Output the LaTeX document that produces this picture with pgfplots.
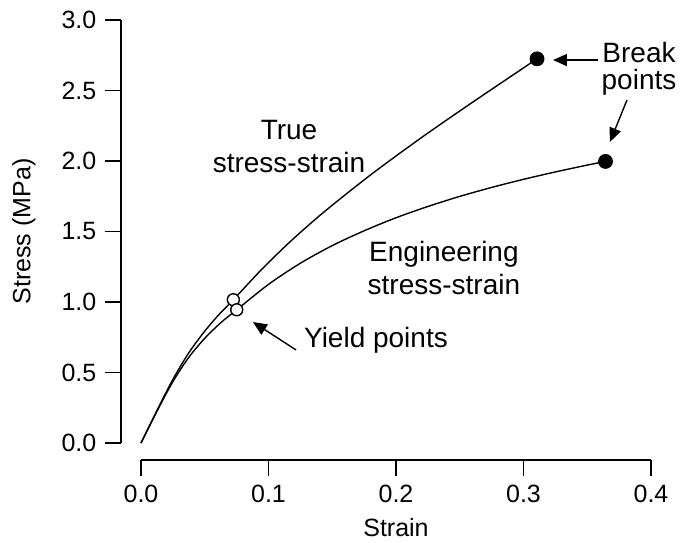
\documentclass[border=0pt]{standalone}
\usepackage{fontspec}
\setmainfont{Liberation Sans}
\usepackage{pgfplots}
\pgfplotsset{compat=1.18}
\usetikzlibrary{arrows.meta}

\pgfplotstableread{
x y
0 0
0.01242 0.2278
0.02469 0.4459
0.03681 0.6303
0.04879 0.7796
0.06062 0.9058
0.07241 1.0160
0.09531 1.2375
0.11778 1.4344
0.13976 1.6100
0.16127 1.7684
0.18232 1.9170
0.20294 2.0549
0.22314 2.1863
0.24295 2.3109
0.26236 2.4310
0.28141 2.5473
0.30010 2.6609
0.31063 2.7245
}\truess

\pgfplotstableread{
x y
0 0
0.0125 0.225
0.025 0.435
0.0375 0.6075
0.05 0.7425
0.0625 0.8525
0.0751 0.945
0.100 1.125
0.125 1.275
0.150 1.400
0.175 1.505
0.200 1.5975
0.225 1.6775
0.250 1.749
0.275 1.8125
0.300 1.870
0.325 1.9225
0.350 1.971
0.3643 1.997
}\engss

\begin{document}
\fontsize{12.5}{15}\selectfont
\begin{tikzpicture}
\begin{axis}[
  scale only axis, width=255pt, height=211.5pt,
  xmin=0, xmax=0.4, ymin=0, ymax=3,
  axis lines=left,
  axis line style={-, line width=0.7pt},
  axis x line shift=8.5pt, axis y line shift=10pt,
  xtick={0,0.1,0.2,0.3,0.4},
  ytick={0,0.5,1,1.5,2,2.5,3},
  tick align=outside, major tick length=8pt,
  tick style={line width=0.7pt, black},
  xticklabel={\pgfmathprintnumber[fixed,fixed zerofill,precision=1,assume math mode=true]{\tick}},
  yticklabel={\pgfmathprintnumber[fixed,fixed zerofill,precision=1,assume math mode=true]{\tick}},
  xlabel={Strain}, ylabel={Stress (MPa)},
  every axis x label/.style={at={([yshift=-42.5pt]axis description cs:0.5,0)}, anchor=center},
  every axis y label/.style={at={([xshift=-58.5pt]axis description cs:0,0.5)}, rotate=90, anchor=center},
  clip=false,
]
\coordinate (O) at (axis cs:0,0);
\addplot[smooth, line width=0.7pt, black] table[x=x,y=y] {\truess};
\addplot[smooth, line width=0.7pt, black] table[x=x,y=y] {\engss};
\addplot[only marks, mark=*, mark size=3pt, mark options={fill=white, draw=black, line width=0.7pt}] coordinates {(0.07241,1.016) (0.0751,0.945)};
\addplot[only marks, mark=*, mark size=3.5pt, mark options={fill=black, draw=black}] coordinates {(0.31063,2.7245) (0.3643,1.997)};

\node[align=center, font=\fontsize{14}{16.5}\selectfont] at (axis cs:0.1161,2.106) {True\\stress-strain};
\node[align=center, font=\fontsize{14}{16.5}\selectfont] at (axis cs:0.2376,1.241) {Engineering\\stress-strain};
\node[align=center, font=\fontsize{14}{16.5}\selectfont] at (axis cs:0.1843,0.730) {Yield points};
\node[align=center, font=\fontsize{14}{13.5}\selectfont] at (axis cs:0.3906,2.652) {Break\\points};

\draw[-{Triangle[length=7pt,width=6pt]}, line width=0.7pt] (axis cs:0.1216,0.660) -- (axis cs:0.0878,0.858);
\draw[-{Triangle[length=7pt,width=6pt]}, line width=0.7pt] (axis cs:0.3584,2.716) -- (axis cs:0.3231,2.716);
\draw[-{Triangle[length=7pt,width=6pt]}, line width=0.7pt] (axis cs:0.3812,2.433) -- (axis cs:0.3678,2.135);
\end{axis}
\pgfresetboundingbox
\path (O) ++(-70.5pt,-49.5pt) rectangle ++(340pt,271pt);
\end{tikzpicture}
\end{document}
